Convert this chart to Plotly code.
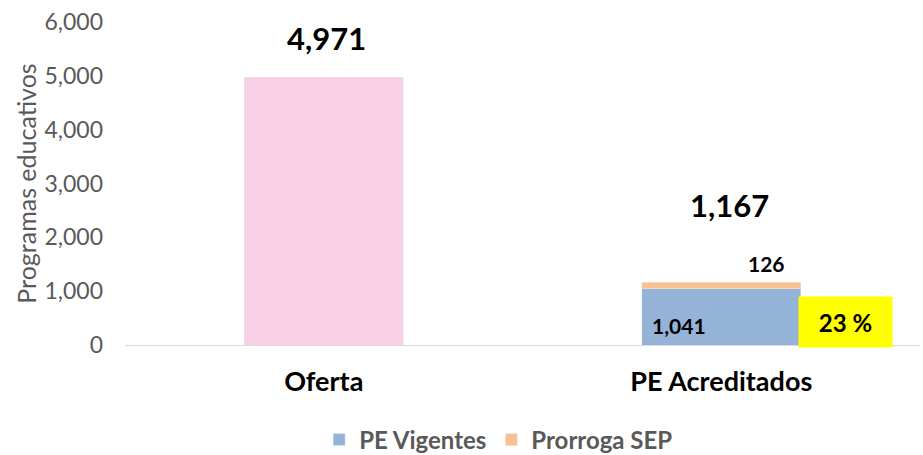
import plotly.graph_objects as go

categories = ["Oferta", "PE Acreditados"]
oferta = [4971, None]
pe_vigentes = [None, 1041]
prorroga_sep = [None, 126]
total_acreditados = 1167
porcentaje = "23 %"

FONT = "Lato"
fig = go.Figure()
fig.add_trace(go.Bar(x=categories, y=oferta, name="Oferta", marker_color="#f9cfe6",
                     showlegend=False))
fig.add_trace(go.Bar(x=categories, y=pe_vigentes, name="<b>PE Vigentes</b>", marker_color="#95b3d7"))
fig.add_trace(go.Bar(x=categories, y=prorroga_sep, name="<b>Prorroga SEP</b>", marker_color="#fac090"))

bold = dict(family=FONT, size=31, color="black")
fig.add_annotation(x=categories[0], y=5700, xshift=3, text="<b>{:,}</b>".format(oferta[0]),
                   showarrow=False, font=bold)
fig.add_annotation(x=categories[1], y=2600, xshift=8, text="<b>{:,}</b>".format(total_acreditados),
                   showarrow=False, font=bold)
fig.add_annotation(x=categories[1], y=1505, xshift=45, text="<b>{:,}</b>".format(prorroga_sep[1]),
                   showarrow=False, font=dict(family=FONT, size=21, color="black"))
fig.add_annotation(x=categories[1], y=370, xshift=-42, text="<b>{:,}</b>".format(pe_vigentes[1]),
                   showarrow=False, font=dict(family=FONT, size=21, color="black"))
fig.add_annotation(x=categories[1], y=427, xshift=124, text="<b>" + porcentaje + "</b>",
                   showarrow=False, bgcolor="#ffff00", width=93, height=50, borderpad=0,
                   font=dict(family=FONT, size=24, color="black"))

fig.update_layout(
    width=923, height=455,
    margin=dict(l=125, r=3, t=22, b=110, autoexpand=False),
    barmode="stack", bargap=0.6,
    plot_bgcolor="white", paper_bgcolor="white",
    font=dict(family=FONT, color="#595959"),
    legend=dict(orientation="h", x=0.47, xanchor="center", y=-0.294, yanchor="middle",
                font=dict(family=FONT, size=24, color="#595959"), traceorder="normal",
                itemwidth=30),
    xaxis=dict(showgrid=False, showline=True, linecolor="#d9d9d9", linewidth=1,
               tickfont=dict(family=FONT, size=27, color="black"), ticks="",
               ticklabelstandoff=13, automargin=False,
               tickvals=categories, ticktext=["<b>" + c + "</b>" for c in categories]),
    yaxis=dict(range=[0, 6000], dtick=1000, tickformat=",", showgrid=False, zeroline=False,
               tickfont=dict(family=FONT, size=23, color="#595959"), ticks="",
               ticklabelstandoff=21, automargin=False,
               title=dict(text="Programas educativos", font=dict(family=FONT, size=25, color="#595959"),
                          standoff=0)),
)
fig.write_html("out.html", post_script="document.body.style.margin='0';",
               config={"displayModeBar": False})
